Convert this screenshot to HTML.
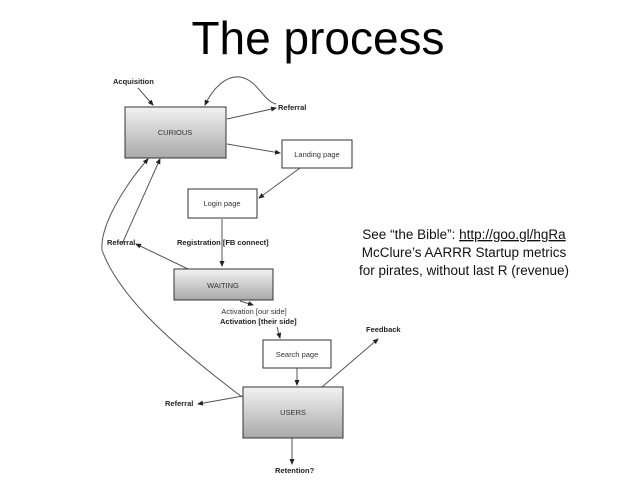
<!DOCTYPE html>
<html><head><style>
body{margin:0;width:638px;height:479px;background:#fff;overflow:hidden}
svg text{font-family:"Liberation Sans",sans-serif}
</style></head><body>
<svg width="638" height="479" viewBox="0 0 638 479">
<defs>
<linearGradient id="g" x1="0" y1="0" x2="0" y2="1"><stop offset="0" stop-color="#f2f2f2"/><stop offset="1" stop-color="#a9a9a9"/></linearGradient>
<marker id="a" markerWidth="6" markerHeight="6" refX="5" refY="3" orient="auto"><path d="M0,0.5 L6,3 L0,5.5z" fill="#222"/></marker>
</defs>
<text x="318" y="54" font-size="46" text-anchor="middle" fill="#000">The process</text>
<g stroke="#555" stroke-width="1" fill="none" marker-end="url(#a)">
<line x1="138" y1="88" x2="153" y2="105"/>
<path d="M276,104 C262,100 258,80 240,77 C225,75 212,90 205,105"/>
<line x1="227" y1="119" x2="276" y2="108"/>
<line x1="227" y1="144" x2="280" y2="153"/>
<line x1="300" y1="168" x2="259" y2="198"/>
<line x1="222" y1="219" x2="222" y2="266"/>
<line x1="188" y1="269" x2="136" y2="244"/>
<path d="M242,397 C180,350 120,300 102,250 C100,225 125,185 148,159"/>
<line x1="122" y1="244" x2="160" y2="159"/>
<line x1="243" y1="396" x2="198" y2="404"/>
<line x1="240" y1="301" x2="253" y2="305"/>
<line x1="277" y1="327" x2="280" y2="338"/>
<line x1="297" y1="368" x2="297" y2="385"/>
<line x1="322" y1="387" x2="378" y2="339"/>
<line x1="292" y1="438" x2="292" y2="464"/>
</g>
<g stroke="#333" stroke-width="1">
<rect x="125" y="107" width="101" height="51" fill="url(#g)"/>
<rect x="282" y="140" width="70" height="28" fill="#fff"/>
<rect x="188" y="189" width="69" height="29" fill="#fff"/>
<rect x="174" y="269" width="99" height="31" fill="url(#g)"/>
<rect x="263" y="340" width="68" height="28" fill="#fff"/>
<rect x="243" y="387" width="100" height="51" fill="url(#g)"/>
</g>
<g font-size="7.5" fill="#333" text-anchor="middle">
<text x="175" y="135">CURIOUS</text>
<text x="317" y="157">Landing page</text>
<text x="222" y="206">Login page</text>
<text x="223" y="288">WAITING</text>
<text x="297" y="357">Search page</text>
<text x="293" y="415">USERS</text>
<text x="254" y="314">Activation [our side]</text>
</g>
<g font-size="7.5" font-weight="bold" fill="#222">
<text x="113" y="84">Acquisition</text>
<text x="278" y="110">Referral</text>
<text x="107" y="245">Referral</text>
<text x="177" y="245">Registration [FB connect]</text>
<text x="220" y="324">Activation [their side]</text>
<text x="366" y="332">Feedback</text>
<text x="165" y="406">Referral</text>
<text x="275" y="473">Retention?</text>
</g>
<g font-size="13.5" fill="#111" text-anchor="middle">
<text x="464" y="239">See “the Bible”: <tspan text-decoration="underline">http://goo.gl/hgRa</tspan></text>
<text x="464" y="257">McClure’s AARRR Startup metrics</text>
<text x="464" y="275">for pirates, without last R (revenue)</text>
</g>
</svg>
</body></html>
